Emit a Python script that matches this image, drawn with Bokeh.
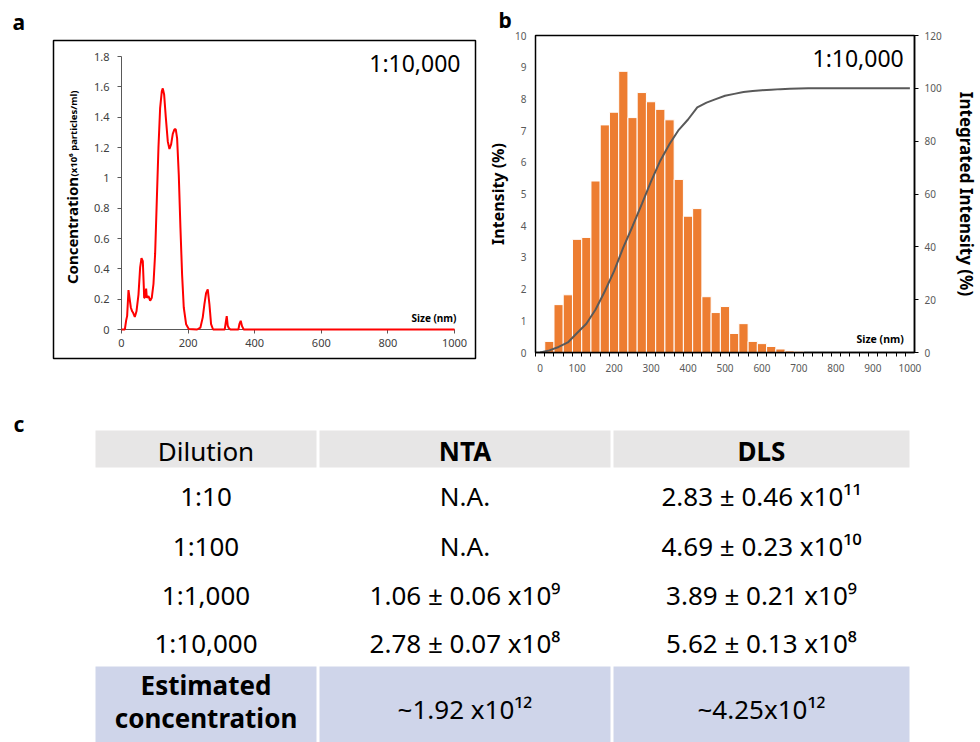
import math
from bokeh.plotting import figure
from bokeh.models import Range1d, LinearAxis, FixedTicker, PrintfTickFormatter, Label
from bokeh.layouts import row, column
from bokeh.embed import file_html
from bokeh.resources import INLINE
from bokeh.core.properties import value

FONT = "Noto Sans"
TICK_GREY = "#595959"

# ---------------- data ----------------
# panel a : NTA size distribution (dilution 1:10,000)
nta_size_nm = [0, 10, 14, 17, 21, 24, 28, 32, 35, 40, 45, 51, 56, 60, 64, 67, 68, 70, 74, 76,
               81, 86, 91, 96, 101, 106, 111, 116, 121, 124, 128, 133, 139, 144, 149, 154, 159,
               163, 167, 172, 177, 182, 187, 194, 202, 227, 237, 244, 249, 254, 259, 264, 269,
               275, 310, 313, 316, 319, 322, 327, 351, 354, 358, 362, 367, 1000]
nta_conc = [0, 0, 0.06, 0.09, 0.26, 0.21, 0.145, 0.12, 0.11, 0.083, 0.12, 0.23, 0.41, 0.47, 0.45,
            0.28, 0.21, 0.21, 0.27, 0.21, 0.22, 0.19, 0.21, 0.30, 0.50, 0.85, 1.20, 1.46, 1.57,
            1.59, 1.55, 1.40, 1.24, 1.19, 1.22, 1.29, 1.32, 1.32, 1.26, 1.02, 0.67, 0.36, 0.145,
            0.035, 0.004, 0, 0.013, 0.08, 0.167, 0.24, 0.265, 0.167, 0.035, 0, 0, 0.045, 0.088,
            0.025, 0.01, 0, 0, 0.035, 0.057, 0.022, 0, 0]
a_xticks = [0, 200, 400, 600, 800, 1000]
a_yticks = [0, 0.2, 0.4, 0.6, 0.8, 1.0, 1.2, 1.4, 1.6, 1.8]

# panel b : DLS intensity distribution (dilution 1:10,000)
dls_bin_nm = [25, 50, 75, 100, 125, 150, 175, 200, 225, 250, 275, 300, 325, 350, 375,
              400, 425, 450, 475, 500, 525, 550, 575, 600, 625, 650, 675, 700]
dls_intensity = [0.35, 1.51, 1.82, 3.57, 3.63, 5.41, 7.18, 7.58, 8.87, 7.41, 8.20, 7.91, 7.67, 7.34,
                 5.46, 4.30, 4.54, 1.76, 1.26, 1.45, 0.60, 0.91, 0.35, 0.28, 0.19, 0.11, 0.05, 0.04]
dls_cum_nm = [0, 25, 50, 75, 100, 125, 150, 175, 200, 225, 250, 275, 300, 325, 350, 375, 400,
              425, 450, 475, 500, 525, 550, 575, 600, 625, 650, 675, 700, 725, 750, 775, 800,
              825, 850, 875, 900, 925, 950, 975, 1000]
dls_cum_intensity = [0, 0.8, 2.1, 3.8, 7.4, 10.9, 16.3, 23.2, 30.8, 39.8, 47.8, 56.2, 64.8, 72.6,
                     78.9, 84.3, 88.2, 92.8, 94.6, 95.9, 97.2, 97.9, 98.6, 99.0, 99.3, 99.5, 99.7,
                     99.8, 99.9, 100, 100, 100, 100, 100, 100, 100, 100, 100, 100, 100, 100]
b_xticks = [0, 100, 200, 300, 400, 500, 600, 700, 800, 900, 1000]
b_yticks = [0, 1, 2, 3, 4, 5, 6, 7, 8, 9, 10]
b_y2ticks = [0, 20, 40, 60, 80, 100, 120]

# panel c : table
table_header = ["Dilution", "NTA", "DLS"]
dilutions = ["1:10", "1:100", "1:1,000", "1:10,000"]
nta_values = ["N.A.", "N.A.", "1.06 ± 0.06 x10⁹", "2.78 ± 0.07 x10⁸"]
dls_values = ["2.83 ± 0.46 x10¹¹", "4.69 ± 0.23 x10¹⁰", "3.89 ± 0.21 x10⁹", "5.62 ± 0.13 x10⁸"]
estimate_label = ["Estimated", "concentration"]
estimate_values = ["~1.92 x10¹²", "~4.25x10¹²"]
dilution_tag = "1:10,000"

# ---------------- layout constants (screen pixels) ----------------
TOP_H = 400                         # height of the two chart figures
A_W = 484
A_BOX = (53, 475, 40, 358)          # left, right, top, bottom of panel a frame
A_X0, A_X1 = 121, 454               # pixel of x=0 / x=1000
A_Y0, A_Y1 = 329, 56                # pixel of y=0 / y=1.8

B_W = 496
B_BOX = (534, 922, 35, 352)

C_W, C_H = 980, 342
C_TOP = TOP_H

MID = 0.39                          # em offset from baseline to text middle


def mid(baseline, size):
    return baseline - MID * size


def ax(px):
    return (px - A_X0) * 1000.0 / (A_X1 - A_X0)


def ay(py):
    return (A_Y0 - py) * 1.8 / (A_Y0 - A_Y1)


def bx(px):
    return -12.5 + (px - B_BOX[0]) * 1025.0 / (B_BOX[1] - B_BOX[0])


def by(py):
    return (B_BOX[3] - py) * 10.0 / (B_BOX[3] - B_BOX[2])


def make_label(x, y, text, size, bold=False, align="left", angle=0.0):
    return Label(x=x, y=y, text=text, angle=angle, text_align=align, text_baseline="middle",
                 text_font=FONT, text_font_size=f"{size}px",
                 text_font_style="bold" if bold else "normal", text_color="black")


def panel_tag(p, text, frame_left, x_px, standoff):
    p.title.text = text
    p.title.align = "left"
    p.title.offset = x_px - frame_left
    p.title.standoff = standoff
    p.title.text_font = FONT
    p.title.text_font_size = "21px"
    p.title.text_font_style = "bold"
    p.title.text_color = "black"


# ---------------- panel a ----------------
pa = figure(width=A_W, height=TOP_H, output_backend="svg", toolbar_location=None,
            x_range=Range1d(ax(A_BOX[0]), ax(A_BOX[1])),
            y_range=Range1d(ay(A_BOX[3]), ay(A_BOX[2])),
            min_border_left=A_BOX[0], min_border_right=A_W - A_BOX[1],
            min_border_top=A_BOX[2], min_border_bottom=TOP_H - A_BOX[3],
            frame_align=False)
pa.outline_line_color = "black"
pa.outline_line_width = 1.5
pa.grid.visible = False
panel_tag(pa, "a", A_BOX[0], 12, 10)

xa = pa.xaxis[0]
xa.fixed_location = 0
xa.bounds = (0, 1000)
xa.ticker = FixedTicker(ticks=a_xticks)
ya = pa.yaxis[0]
ya.fixed_location = 0
ya.bounds = (0, 1.8)
ya.ticker = FixedTicker(ticks=a_yticks)
ya.formatter = PrintfTickFormatter(format="%g")
for axis in (xa, ya):
    axis.axis_line_color = "#595959"
    axis.axis_line_width = 1
    axis.major_tick_line_color = "#595959"
    axis.major_tick_out = 4
    axis.major_tick_in = 0
    axis.minor_tick_line_color = None
    axis.major_label_text_font = FONT
    axis.major_label_text_font_size = "11px"
    axis.major_label_text_color = "#404040"
xa.major_label_standoff = 5
ya.major_label_standoff = 8

pa.line(nta_size_nm, nta_conc, line_color="#FF0000", line_width=2, level="overlay")

pa.add_layout(make_label(ax(460), ay(mid(71, 23)), dilution_tag, 23, align="right"))
pa.add_layout(make_label(ax(456), ay(mid(321, 10)), "Size (nm)", 10, bold=True, align="right"))
pa.add_layout(make_label(ax(71), ay(230), "Concentration", 15, bold=True, align="center",
                         angle=math.pi / 2))
pa.add_layout(make_label(ax(73), ay(133), "(x10⁶ particles/ml)", 9.5, bold=True, align="center",
                         angle=math.pi / 2))

# ---------------- panel b ----------------
pb = figure(width=B_W, height=TOP_H, output_backend="svg", toolbar_location=None,
            x_range=Range1d(-12.5, 1012.5), y_range=Range1d(0, 10),
            min_border_left=B_BOX[0] - A_W,
            min_border_right=(A_W + B_W) - B_BOX[1],
            min_border_top=B_BOX[2], min_border_bottom=TOP_H - B_BOX[3],
            frame_align=False)
pb.extra_y_ranges = {"cum": Range1d(0, 120)}
pb.outline_line_color = "black"
pb.outline_line_width = 1.5
pb.grid.visible = False
panel_tag(pb, "b", B_BOX[0], 497, 3)

pb.vbar(x=dls_bin_nm, top=dls_intensity, width=25, fill_color="#ED7D31",
        line_color="white", line_width=1)
pb.line(dls_cum_nm, dls_cum_intensity, y_range_name="cum", line_color="#595959", line_width=2)

xb = pb.xaxis[0]
xb.ticker = FixedTicker(ticks=b_xticks, minor_ticks=[-12.5 + 25 * k for k in range(41)])
xb.major_tick_out = 0
xb.major_tick_in = 0
xb.minor_tick_out = 4
xb.minor_tick_in = 0
xb.minor_tick_line_color = "black"
xb.minor_tick_line_width = 1
xb.axis_line_color = "black"
xb.axis_line_width = 1.5
xb.major_label_standoff = 7

yb = pb.yaxis[0]
yb.ticker = FixedTicker(ticks=b_yticks)
yb.major_tick_out = 0
yb.major_tick_in = 0
yb.minor_tick_line_color = None
yb.axis_line_color = None
yb.major_label_standoff = 9
yb.axis_label = "Intensity (%)"
yb.axis_label_standoff = 3

yb2 = LinearAxis(y_range_name="cum", ticker=FixedTicker(ticks=b_y2ticks))
yb2.major_tick_out = 4
yb2.major_tick_in = 0
yb2.minor_tick_line_color = None
yb2.axis_line_color = "black"
yb2.axis_line_width = 1.5
yb2.major_label_standoff = 6
yb2.axis_label = "Integrated Intensity (%)"
yb2.axis_label_standoff = 10
pb.add_layout(yb2, "right")

for axis in (xb, yb, yb2):
    axis.major_label_text_font = FONT
    axis.major_label_text_font_size = "10px"
    axis.major_label_text_color = TICK_GREY
    axis.axis_label_text_font = FONT
    axis.axis_label_text_font_style = "bold"
    axis.axis_label_text_color = "black"
yb.axis_label_text_font_size = "16px"
yb2.axis_label_text_font_size = "17px"

pb.add_layout(make_label(bx(911), by(mid(66, 23)), dilution_tag, 23, align="right"))
pb.add_layout(make_label(bx(911), by(mid(343, 10.5)), "Size (nm)", 10.5, bold=True, align="right"))

# ---------------- panel c (table) ----------------
pc = figure(width=C_W, height=C_H, output_backend="svg", toolbar_location=None,
            x_range=Range1d(0, C_W), y_range=Range1d(C_TOP + C_H, C_TOP),
            x_axis_location=None, y_axis_location=None,
            min_border_left=0, min_border_right=0, min_border_top=0, min_border_bottom=0)
pc.outline_line_color = None
pc.grid.visible = False

col_left = [95, 319, 613]
col_right = [316, 610, 909]
col_mid = [(l + r) / 2 for l, r in zip(col_left, col_right)]
HEAD_TOP, HEAD_BOT = 430, 467
EST_TOP = 666
FS = 26
row_base = [506, 555.5, 604.5, 653]

pc.quad(left=col_left, right=col_right, top=[HEAD_TOP] * 3, bottom=[HEAD_BOT] * 3,
        fill_color="#E7E6E6", line_color=None)
pc.quad(left=col_left, right=col_right, top=[EST_TOP] * 3, bottom=[C_TOP + C_H] * 3,
        fill_color="#CFD5EA", line_color=None)

TF = dict(text_font=value(FONT), text_font_size=f"{FS}px", text_color="black",
          text_align="center", text_baseline="middle")
pc.text(x=col_mid[:1], y=[mid(461, FS)], text=table_header[:1], **TF)
pc.text(x=col_mid[1:], y=[mid(461, FS)] * 2, text=table_header[1:], text_font_style="bold", **TF)
pc.text(x=[col_mid[0]] * 4, y=[mid(b, FS) for b in row_base], text=dilutions, **TF)
pc.text(x=[col_mid[1]] * 4, y=[mid(b, FS) for b in row_base], text=nta_values, **TF)
pc.text(x=[col_mid[2]] * 4, y=[mid(b, FS) for b in row_base], text=dls_values, **TF)
pc.text(x=[col_mid[0]] * 2, y=[mid(695, FS), mid(728, FS)], text=estimate_label,
        text_font_style="bold", **TF)
pc.text(x=col_mid[1:], y=[mid(719, FS)] * 2, text=estimate_values, **TF)
pc.text(x=[13], y=[mid(432, 21)], text=["c"], text_font=value(FONT), text_font_size="21px",
        text_font_style="bold", text_align="left", text_baseline="middle")

layout = column(row(pa, pb), pc)
open("out.html", "w").write(file_html(layout, INLINE))
